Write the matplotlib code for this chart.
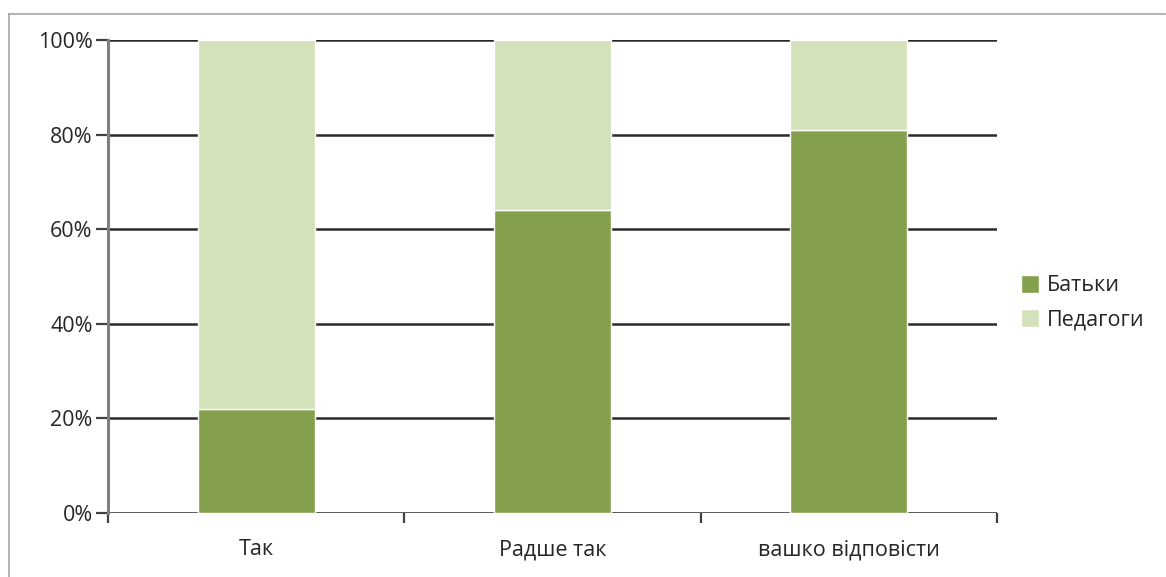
import matplotlib
matplotlib.use("Agg")
import matplotlib.pyplot as plt
from matplotlib.lines import Line2D
from matplotlib.ticker import FuncFormatter, FixedLocator

categories = ["Так", "Радше так", "вашко відповісти"]
batky = [22, 64, 81]
pedagogy = [78, 36, 19]
series_names = ["Батьки", "Педагоги"]
yticks = [0, 20, 40, 60, 80, 100]

plt.rcParams['font.family'] = ['Open Sans', 'DejaVu Sans']

W, H = 1166, 577
fig = plt.figure(figsize=(W / 100, H / 100), dpi=100)
ax = fig.add_axes([108 / W, 1 - 513 / H, (997 - 108) / W, (513 - 40) / H])

x = list(range(len(categories)))
c1, c2 = "#84a04c", "#d4e2bb"
ax.bar(x, batky, width=0.395, color=c1, edgecolor="white", linewidth=1, label=series_names[0], zorder=3)
ax.bar(x, pedagogy, width=0.395, bottom=batky, color=c2, edgecolor="white", linewidth=1, label=series_names[1], zorder=3)

ax.set_xlim(-0.5, len(categories) - 0.5)
ax.set_ylim(0, 100)
ax.set_yticks(yticks)
ax.yaxis.set_major_formatter(FuncFormatter(lambda v, p: f"{int(v)}%"))
for y in yticks:
    ax.axhline(y, color="#2a2a2a", linewidth=1.8, zorder=1)

FS = 15.5
ax.xaxis.set_major_locator(FixedLocator([i - 0.5 for i in range(len(categories) + 1)]))
ax.xaxis.set_major_formatter(FuncFormatter(lambda v, p: ""))
ax.xaxis.set_minor_locator(FixedLocator(x))
ax.set_xticklabels(categories, minor=True)
ax.tick_params(axis="x", which="major", length=7, width=1.6, color="#404040", direction="out")
ax.tick_params(axis="x", which="minor", length=0, pad=19, labelsize=FS, labelcolor="#262626")
ax.tick_params(axis="y", length=9, width=1.6, color="#404040", direction="out", labelsize=FS, labelcolor="#262626", pad=2)

for s in ["top", "right", "bottom"]:
    ax.spines[s].set_visible(False)
ax.spines["left"].set_color("#7f7f7f")
ax.spines["left"].set_linewidth(2.2)
ax.spines["left"].set_zorder(4)

leg = fig.legend(loc="upper left", bbox_to_anchor=(1021 / W, 1 - 275 / H), frameon=False,
                 fontsize=FS, handlelength=0.85, handleheight=0.9, handletextpad=0.35,
                 labelspacing=0.6, borderaxespad=0, borderpad=0)
for t in leg.get_texts():
    t.set_color("#262626")

# outer chart-area border (top and left visible)
fig.add_artist(Line2D([9 / W, 9 / W], [0, 1 - 14 / H], transform=fig.transFigure, color="#a6a6a6", linewidth=1.2))
fig.add_artist(Line2D([9 / W, 1165 / W], [1 - 14 / H, 1 - 14 / H], transform=fig.transFigure, color="#a6a6a6", linewidth=1.2))

fig.savefig("out.png", dpi=100)
